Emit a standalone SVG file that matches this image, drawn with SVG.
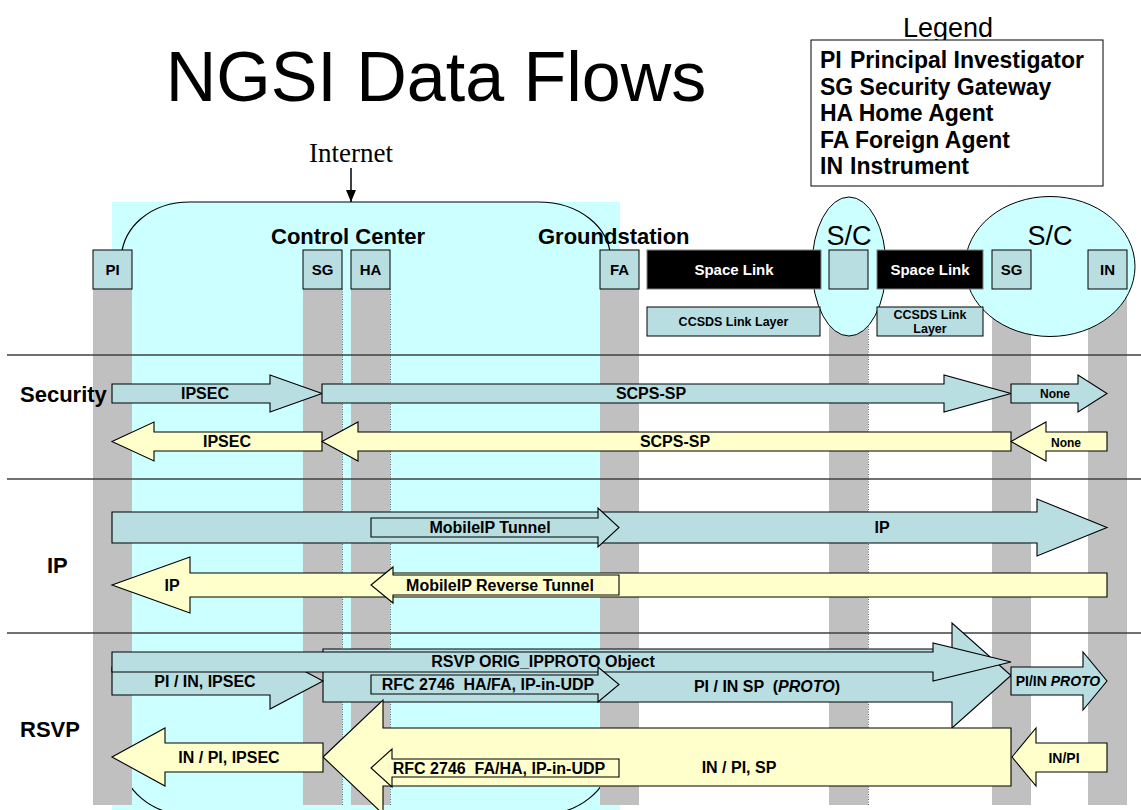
<svg xmlns="http://www.w3.org/2000/svg" width="1141" height="810" viewBox="0 0 1141 810">
<style>
text{font-family:"Liberation Sans",Arial,sans-serif;fill:#000}
.b{font-weight:bold}
.box{fill:#B8DEE2;stroke:#000;stroke-width:1}
.col{fill:#C0C0C0}
.dot{stroke:#606060;stroke-width:1;stroke-dasharray:1,1.5}
.fwd{fill:#B8DEE2;stroke:#000;stroke-width:1.1}
.rev{fill:#FFFFCC;stroke:#000;stroke-width:1.1}
.lbl{font-weight:bold;font-size:16px;text-anchor:middle}
.sm{font-weight:bold;font-size:12px;text-anchor:middle}
.md{font-weight:bold;font-size:14px;text-anchor:middle}
.nl{font-weight:bold;font-size:15px;text-anchor:middle}
.sep{stroke:#404040;stroke-width:1.3}
.row{font-weight:bold;font-size:22px}
</style>
<defs>
<marker id="ah" markerWidth="12" markerHeight="10" refX="12" refY="5" orient="auto" markerUnits="userSpaceOnUse" viewBox="0 0 12 10"><path d="M0,0 L12,5 L0,10 Z" fill="#000"/></marker>
</defs>
<rect width="1141" height="810" fill="#fff"/>
<!-- title -->
<text x="436" y="101" font-size="70" text-anchor="middle">NGSI Data Flows</text>
<!-- background -->
<rect x="112" y="202" width="508" height="608" fill="#CCFFFF"/>
<path d="M121,262 C121,226 152,202 190,202 L538,202 C578,202 611,226 611,262 L611,755 C611,790 578,815 538,815 L190,815 C152,815 121,790 121,755 Z" fill="none" stroke="#000" stroke-width="1.2"/>
<text x="351" y="162" font-size="27" text-anchor="middle" style="font-family:'Liberation Serif','Times New Roman',serif">Internet</text>
<line x1="351" y1="168" x2="351" y2="202" stroke="#000" stroke-width="1.5" marker-end="url(#ah)"/>
<text x="271" y="244" class="b" font-size="22">Control Center</text>
<text x="538" y="244" class="b" font-size="22">Groundstation</text>
<!-- columns -->
<g id="columns">
<rect class="col" x="93" y="289" width="39" height="516"/>
<rect class="col" x="303" y="289" width="39" height="516"/>
<rect class="col" x="351" y="289" width="39" height="516"/>
<rect class="col" x="600" y="289" width="39" height="516"/>
<rect class="col" x="829" y="289" width="39" height="516"/>
<rect class="col" x="992" y="289" width="39" height="516"/>
<rect class="col" x="1088" y="289" width="39" height="516"/>
<line class="dot" x1="342.5" y1="289" x2="342.5" y2="805"/>
<line class="dot" x1="390.5" y1="289" x2="390.5" y2="805"/>
<line class="dot" x1="868.5" y1="289" x2="868.5" y2="805"/>
</g>
<!-- spacecraft ellipses -->
<g id="sc1">
<ellipse cx="849" cy="266.5" rx="37" ry="69.5" fill="#CCFFFF" stroke="#000" stroke-width="1"/>
<text x="849" y="245" font-size="27" text-anchor="middle">S/C</text>
</g>
<g id="sc2">
<ellipse cx="1050" cy="266.5" rx="85" ry="70" fill="#CCFFFF" stroke="#000" stroke-width="1"/>
<text x="1050" y="245" font-size="27" text-anchor="middle">S/C</text>
</g>
<!-- nodes -->
<g id="node-pi"><rect class="box" x="93" y="250" width="39" height="39"/><text class="nl" x="112.5" y="275">PI</text></g>
<g id="node-sg"><rect class="box" x="303" y="250" width="39" height="39"/><text class="nl" x="322.5" y="275">SG</text></g>
<g id="node-ha"><rect class="box" x="351" y="250" width="39" height="39"/><text class="nl" x="370.5" y="275">HA</text></g>
<g id="node-fa"><rect class="box" x="600" y="250" width="39" height="39"/><text class="nl" x="619.5" y="275">FA</text></g>
<g id="node-spacelink1"><rect x="647" y="250" width="174" height="39" fill="#000" stroke="#808080" stroke-width="1"/><text class="nl" x="734" y="275" style="fill:#fff">Space Link</text></g>
<g id="node-ccsds1"><rect class="box" x="647" y="307" width="173" height="29"/><text x="733.5" y="326" font-size="12.5" class="b" text-anchor="middle">CCSDS Link Layer</text></g>
<g id="node-sc-box"><rect class="box" x="829" y="250" width="39" height="39"/></g>
<g id="node-spacelink2"><rect x="877" y="250" width="106" height="39" fill="#000" stroke="#808080" stroke-width="1"/><text class="nl" x="930" y="275" style="fill:#fff">Space Link</text></g>
<g id="node-ccsds2"><rect class="box" x="877" y="307" width="106" height="29"/><text x="930" y="319" font-size="12.5" class="b" text-anchor="middle">CCSDS Link</text><text x="930" y="333" font-size="12.5" class="b" text-anchor="middle">Layer</text></g>
<g id="node-sg2"><rect class="box" x="992" y="250" width="39" height="39"/><text class="nl" x="1011.5" y="275">SG</text></g>
<g id="node-in"><rect class="box" x="1088" y="250" width="39" height="39"/><text class="nl" x="1107.5" y="275">IN</text></g>
<!-- legend -->
<g id="legend">
<text x="948" y="37" font-size="27" text-anchor="middle">Legend</text>
<rect x="811" y="40" width="292" height="146" fill="#fff" stroke="#000" stroke-width="1"/>
<g class="b" font-size="23">
<text x="820" y="68">PI</text><text x="850" y="68">Principal Investigator</text>
<text x="820" y="95" xml:space="preserve">SG Security Gateway</text>
<text x="820" y="121" xml:space="preserve">HA Home Agent</text>
<text x="820" y="148" xml:space="preserve">FA Foreign Agent</text>
<text x="820" y="174">IN</text><text x="850" y="174">Instrument</text>
</g>
</g>
<!-- separators and row labels -->
<line class="sep" x1="7" y1="355" x2="1141" y2="355"/>
<line class="sep" x1="7" y1="479" x2="1141" y2="479"/>
<line class="sep" x1="7" y1="633" x2="1141" y2="633"/>
<text class="row" x="20" y="402">Security</text>
<text class="row" x="47" y="573">IP</text>
<text class="row" x="20" y="737">RSVP</text>
<!-- connectors -->
<g id="connectors">
<!-- Security -->
<polygon class="fwd" points="112,384 270,384 270,375 322,393.5 270,412 270,403 112,403"/>
<polygon class="fwd" points="322,384 944,384 944,375 1011,393.5 944,412 944,403 322,403"/>
<polygon class="fwd" points="1011,384 1078,384 1078,375 1107,393.5 1078,412 1078,403 1011,403"/>
<polygon class="rev" points="112,441.5 154,422 154,432 322,432 322,451 154,451 154,461"/>
<polygon class="rev" points="322,441.5 358,422 358,432 1011,432 1011,451 358,451 358,461"/>
<polygon class="rev" points="1011,441.5 1046,422 1046,432 1107,432 1107,451 1046,451 1046,461"/>
<!-- IP -->
<polygon class="fwd" points="112,512 1037,512 1037,499 1107,527.5 1037,556 1037,543 112,543"/>
<polygon class="fwd" points="371,518 598,518 598,508 619,527.5 598,547 598,537 371,537"/>
<polygon class="rev" points="112,585 190,557 190,573 1107,573 1107,597 190,597 190,613"/>
<polygon class="rev" points="371,585 393,567 393,575 619,575 619,595 393,595 393,603"/>
<!-- RSVP -->
<polygon class="fwd" points="323,649 952,649 952,623 1011,675.5 952,728 952,702 323,702"/>
<polygon class="fwd" points="112,667 270,667 270,653 323,681 270,709 270,695 112,695"/>
<polygon class="fwd" points="112,652 933,652 933,643 1011,662 933,681 933,672 112,672"/>
<polygon class="fwd" points="371,675 598,675 598,667 619,684.5 598,702 598,694 371,694"/>
<polygon class="fwd" points="1011,667 1083,667 1083,652 1107,681 1083,710 1083,695 1011,695"/>
<polygon class="rev" points="323,757 383,700 383,728 1011,728 1011,786 383,786 383,814"/>
<polygon class="rev" points="112,757 165,728 165,743 323,743 323,772 165,772 165,786"/>
<polygon class="rev" points="371,768 392,749 392,759 619,759 619,777 392,777 392,787"/>
<polygon class="rev" points="1012,757 1036,728 1036,743 1107,743 1107,772 1036,772 1036,786"/>
<!-- labels -->
<text class="lbl" x="205" y="399">IPSEC</text>
<text class="lbl" x="651" y="399">SCPS-SP</text>
<text class="sm" x="1055" y="398">None</text>
<text class="lbl" x="227" y="447">IPSEC</text>
<text class="lbl" x="675" y="447">SCPS-SP</text>
<text class="sm" x="1066" y="447">None</text>
<text class="lbl" x="882" y="533">IP</text>
<text class="lbl" x="490" y="533">MobileIP Tunnel</text>
<text class="lbl" x="172" y="591">IP</text>
<text class="lbl" x="500" y="591">MobileIP Reverse Tunnel</text>
<text class="lbl" x="767" y="692" xml:space="preserve">PI / IN SP  (<tspan font-style="italic">PROTO</tspan>)</text>
<text class="lbl" x="205" y="687">PI / IN, IPSEC</text>
<text class="lbl" x="543" y="667">RSVP ORIG_IPPROTO Object</text>
<text class="lbl" x="488" y="690" xml:space="preserve">RFC 2746  HA/FA, IP-in-UDP</text>
<text class="md" x="1058" y="686">PI/IN <tspan font-style="italic">PROTO</tspan></text>
<text class="lbl" x="739" y="773">IN / PI, SP</text>
<text class="lbl" x="229" y="763">IN / PI, IPSEC</text>
<text class="lbl" x="499" y="774" xml:space="preserve">RFC 2746  FA/HA, IP-in-UDP</text>
<text class="md" x="1064" y="763">IN/PI</text>
</g>
</svg>
